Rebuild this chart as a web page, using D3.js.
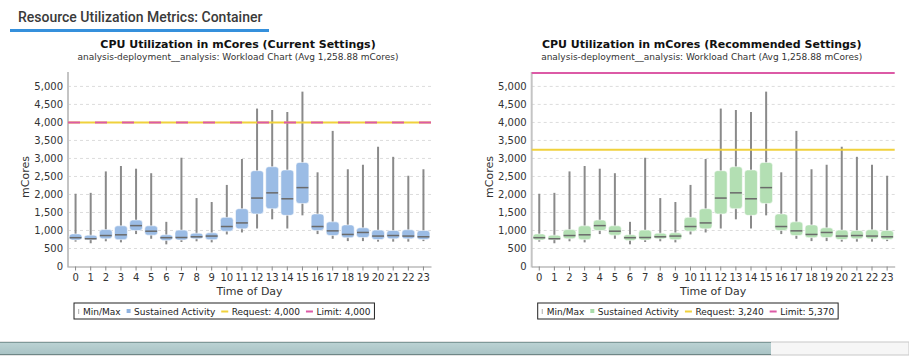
<!DOCTYPE html>
<html lang="en">
<head>
  <meta charset="UTF-8">
  <title>Resource Utilization Metrics: Container</title>
  <script src="https://cdn.jsdelivr.net/npm/d3@7/dist/d3.min.js"></script>
  <style>
    body { margin: 0; background: #fff; }
    svg { display: block; font-family: "DejaVu Sans", sans-serif; }
  </style>
</head>
<body>
  <svg width="909" height="364"></svg>
<script>
  // data (mCores per hour of day)
  const hours = d3.range(0, 24).map(String);
  const minVals    = [690, 645, 700, 670, 900, 770, 615, 680, 700, 670, 890, 945, 1055, 1310, 1055, 1420, 900, 770, 705, 705, 690, 690, 690, 705];
  const q1Vals     = [735, 745, 770, 745, 1000, 870, 725, 735, 770, 745, 980, 1045, 1460, 1605, 1420, 1750, 1000, 860, 800, 805, 750, 770, 770, 750];
  const medianVals = [800, 770, 860, 880, 1135, 980, 800, 805, 825, 845, 1110, 1210, 1900, 2045, 1880, 2190, 1110, 990, 890, 945, 845, 860, 845, 825];
  const q3Vals     = [905, 870, 1025, 1130, 1290, 1130, 880, 1010, 925, 935, 1365, 1605, 2660, 2770, 2680, 2890, 1460, 1240, 1155, 1075, 1010, 1000, 1020, 1000];
  const maxCurrent = [2020, 2045, 2640, 2790, 2715, 2590, 1240, 3020, 1900, 1790, 2265, 2985, 4385, 4345, 4290, 4855, 2615, 3765, 2700, 2825, 3325, 3045, 2520, 2700];
  const maxRecommended = [2020, 2045, 2640, 2790, 2715, 2590, 1240, 3020, 1900, 1790, 2265, 2985, 4385, 4345, 4290, 4855, 2615, 3765, 2700, 2825, 3325, 3045, 2825, 2520];
  const yTicks = [0, 500, 1000, 1500, 2000, 2500, 3000, 3500, 4000, 4500, 5000];
  const subtitle = "analysis-deployment__analysis: Workload Chart (Avg 1,258.88 mCores)";

  const charts = [
    { title: "CPU Utilization in mCores (Current Settings)", maxVals: maxCurrent,
      request: 4000, limit: 4000, fill: "#9bbce5", legendFill: "#8fb3e0" },
    { title: "CPU Utilization in mCores (Recommended Settings)", maxVals: maxRecommended,
      request: 3240, limit: 5370, fill: "#b3dfb3", legendFill: "#a9dba9" }
  ];

  const svg = d3.select("svg");
  const fmt = d3.format(",");

  // page header
  svg.append("text")
    .attr("x", 18).attr("y", 22)
    .attr("font-family", "Roboto, 'Liberation Sans', sans-serif")
    .attr("font-size", 14).attr("font-weight", 500)
    .attr("fill", "#3a3a3a")
    .text("Resource Utilization Metrics: Container");
  svg.append("rect")
    .attr("x", 10).attr("y", 29).attr("width", 259).attr("height", 3)
    .attr("fill", "#3590dc");

  const plotW = 363;
  const plotTop = 72, plotBottom = 266.5;

  const yScale = d3.scaleLinear().domain([0, 5400]).range([plotBottom, plotTop]);

  charts.forEach((c, i) => {
    const offset = i * 463.7;
    const g = svg.append("g").attr("transform", `translate(${68 + offset},0)`);

    const xScale = d3.scaleBand().domain(hours).range([0, plotW]).padding(0);
    const boxW = xScale.bandwidth() * 0.85;
    const cx = h => xScale(h) + xScale.bandwidth() / 2;

    // titles
    g.append("text")
      .attr("x", 170).attr("y", 48)
      .attr("text-anchor", "middle")
      .attr("font-size", 11).attr("font-weight", "bold").attr("fill", "#111")
      .text(c.title);
    g.append("text")
      .attr("x", 170).attr("y", 60)
      .attr("text-anchor", "middle")
      .attr("font-size", 9).attr("fill", "#333")
      .text(subtitle);

    // dashed grid
    g.append("g")
      .selectAll("line")
      .data(yTicks.slice(1))
      .join("line")
      .attr("x1", 0).attr("x2", plotW)
      .attr("y1", d => yScale(d)).attr("y2", d => yScale(d))
      .attr("stroke", "#dcdcdc")
      .attr("stroke-dasharray", "3,3");

    // y axis
    const yAxis = g.append("g")
      .call(d3.axisLeft(yScale).tickValues(yTicks).tickFormat(fmt).tickSize(0).tickPadding(5));
    yAxis.select(".domain").remove();
    yAxis.selectAll("text")
      .attr("font-family", "DejaVu Sans, sans-serif")
      .attr("font-size", 10).attr("fill", "#333");
    g.append("line")
      .attr("x1", 0).attr("x2", 0).attr("y1", plotTop).attr("y2", plotBottom + 1)
      .attr("stroke", "#c4c4c4").attr("stroke-width", 2);

    // x axis
    const xAxis = g.append("g")
      .attr("transform", `translate(0,${plotBottom})`)
      .call(d3.axisBottom(xScale).tickSize(4).tickPadding(3).tickSizeOuter(0));
    xAxis.select(".domain").attr("stroke", "#999");
    xAxis.selectAll(".tick line").attr("stroke", "#888");
    xAxis.selectAll("text")
      .attr("font-family", "DejaVu Sans, sans-serif")
      .attr("font-size", 10).attr("fill", "#333");

    // axis titles
    g.append("text")
      .attr("x", plotW / 2).attr("y", 295)
      .attr("text-anchor", "middle")
      .attr("font-size", 11).attr("fill", "#333")
      .text("Time of Day");
    g.append("text")
      .attr("transform", `translate(-39,177) rotate(-90)`)
      .attr("text-anchor", "middle")
      .attr("font-size", 11).attr("fill", "#333")
      .text("mCores");

    // whiskers min -> max
    g.append("g")
      .selectAll("line")
      .data(hours)
      .join("line")
      .attr("x1", cx).attr("x2", cx)
      .attr("y1", (h, j) => yScale(minVals[j]))
      .attr("y2", (h, j) => yScale(c.maxVals[j]))
      .attr("stroke", "#8a8a8a").attr("stroke-width", 2);

    // boxes q1 -> q3
    g.append("g")
      .selectAll("rect")
      .data(hours)
      .join("rect")
      .attr("x", h => cx(h) - boxW / 2)
      .attr("width", boxW)
      .attr("y", (h, j) => yScale(q3Vals[j]))
      .attr("height", (h, j) => yScale(q1Vals[j]) - yScale(q3Vals[j]))
      .attr("rx", 3)
      .attr("fill", c.fill)
      .attr("stroke", "rgba(255,255,255,0.55)")
      .attr("stroke-width", 1);

    // medians
    g.append("g")
      .selectAll("line")
      .data(hours)
      .join("line")
      .attr("x1", h => cx(h) - boxW / 2 + 0.5)
      .attr("x2", h => cx(h) + boxW / 2 - 0.5)
      .attr("y1", (h, j) => yScale(medianVals[j]))
      .attr("y2", (h, j) => yScale(medianVals[j]))
      .attr("stroke", "#6a6a6a").attr("stroke-width", 1.5);

    // request / limit lines
    g.append("line")
      .attr("x1", 0).attr("x2", plotW)
      .attr("y1", yScale(c.request)).attr("y2", yScale(c.request))
      .attr("stroke", "#f0d13c").attr("stroke-width", 2);
    const lim = g.append("line")
      .attr("x1", 0).attr("x2", plotW)
      .attr("y1", yScale(c.limit)).attr("y2", yScale(c.limit))
      .attr("stroke", "#dc5aa6").attr("stroke-width", 2);
    if (c.request === c.limit) lim.attr("stroke-dasharray", "12,15");

    // legend
    const lg = g.append("g").attr("transform", `translate(6,303)`);
    const box = lg.append("rect")
      .attr("x", 0).attr("y", 0).attr("height", 16)
      .attr("fill", "#fff").attr("stroke", "#222").attr("stroke-width", 1);
    const items = [
      { label: "Min/Max", kind: "minmax" },
      { label: "Sustained Activity", kind: "box" },
      { label: "Request: " + fmt(c.request), kind: "request" },
      { label: "Limit: " + fmt(c.limit), kind: "limit" }
    ];
    let lx = 4;
    items.forEach(it => {
      if (it.kind === "minmax") {
        lg.append("rect").attr("x", lx).attr("y", 6).attr("width", 1.2).attr("height", 5).attr("fill", "#bbb");
        lx += 5;
      } else if (it.kind === "box") {
        lg.append("rect").attr("x", lx).attr("y", 6).attr("width", 4).attr("height", 4).attr("fill", c.legendFill);
        lx += 7.5;
      } else {
        lg.append("rect").attr("x", lx).attr("y", 7.5).attr("width", 7).attr("height", 2)
          .attr("fill", it.kind === "request" ? "#f0d13c" : "#dc5aa6");
        lx += 10.5;
      }
      const t = lg.append("text")
        .attr("x", lx).attr("y", 12)
        .attr("font-size", 9).attr("fill", "#222")
        .text(it.label);
      lx += t.node().getComputedTextLength() + 6;
    });
    box.attr("width", lx - 2);
  });

  // bottom scroll bar
  const grad = svg.append("defs").append("linearGradient")
    .attr("id", "bar").attr("x1", 0).attr("x2", 0).attr("y1", 0).attr("y2", 1);
  grad.append("stop").attr("offset", 0).attr("stop-color", "#bcd3d4");
  grad.append("stop").attr("offset", 1).attr("stop-color", "#a8c2c4");
  svg.append("rect").attr("x", 0).attr("y", 342).attr("width", 909).attr("height", 13)
    .attr("fill", "#f6f6f6").attr("stroke", "#c8c8c8");
  svg.append("rect").attr("x", 0).attr("y", 342).attr("width", 771).attr("height", 13)
    .attr("fill", "url(#bar)");
  svg.append("line").attr("x1", 0).attr("x2", 771).attr("y1", 342.5).attr("y2", 342.5)
    .attr("stroke", "#7f9999");
  svg.append("line").attr("x1", 0).attr("x2", 771).attr("y1", 354.5).attr("y2", 354.5)
    .attr("stroke", "#6e8686");
</script>
</body>
</html>
